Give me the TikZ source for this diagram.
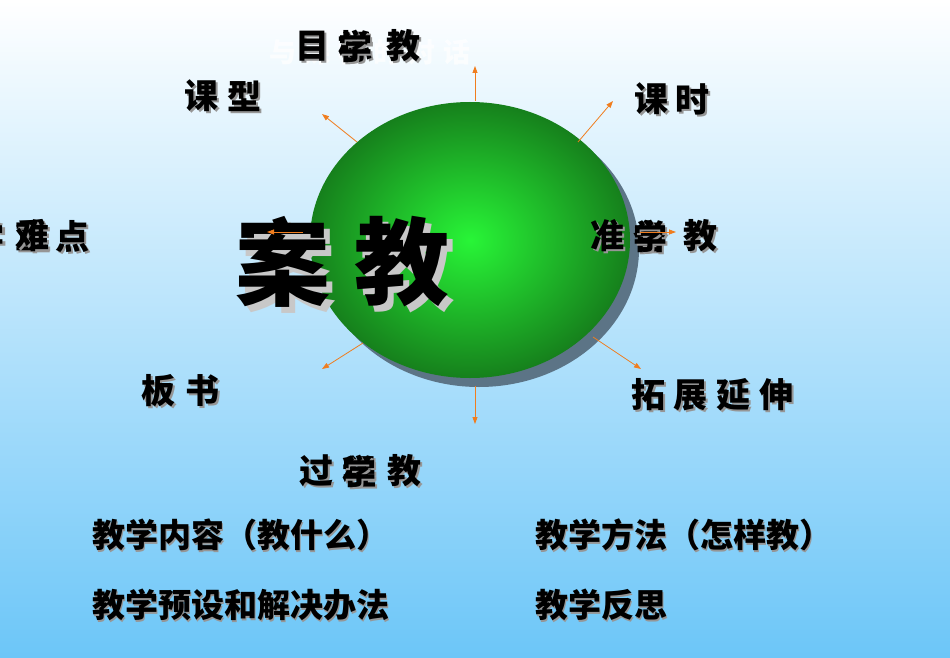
\documentclass[tikz,border=0pt]{standalone}
\usepackage{fontspec}
\usetikzlibrary{arrows.meta,shapes.geometric}
\newfontfamily\cjk{Noto Sans CJK SC}
\definecolor{arrc}{RGB}{240,125,30}
\definecolor{shc}{RGB}{150,150,150}
\definecolor{bigsh}{RGB}{200,200,200}
\definecolor{bgm}{RGB}{205,238,252}
\definecolor{bgb}{RGB}{108,198,248}
\definecolor{ballin}{RGB}{40,245,55}
\definecolor{ballout}{RGB}{22,128,28}
\definecolor{ballsh}{RGB}{92,116,134}
% glyph with drop shadow inside one box
\newcommand\shg[1]{\rlap{\hspace{2pt}\raisebox{-2pt}{\textcolor{shc}{#1}}}#1}
\newcommand\bigglyph[1]{\rlap{\hspace{6pt}\raisebox{-6pt}{\textcolor{bigsh}{#1}}}#1}
\newcommand\botline[1]{\rlap{\hspace{1.5pt}\raisebox{-1.5pt}{\textcolor{shc}{#1}}}#1}
\tikzset{
  lab/.style={font=\cjk\bfseries\fontsize{34}{34}\selectfont, inner sep=0pt, text=black},
  big/.style={font=\cjk\bfseries\fontsize{95}{95}\selectfont, inner sep=0pt},
  bot/.style={font=\cjk\bfseries\fontsize{33}{33}\selectfont, inner sep=0pt, anchor=west},
  arr/.style={draw=arrc, line width=0.8pt, -{Triangle[length=7pt,width=5pt]}},
}
\begin{document}
\begin{tikzpicture}[x=1pt,y=-1pt]
\useasboundingbox (0,0) rectangle (950,658);
\shade[top color=white, middle color=bgm, bottom color=bgb] (0,0) rectangle (950,658);

% faint white text
\node[font=\cjk\bfseries\fontsize{27}{27}\selectfont, text=white, opacity=0.75, inner sep=0pt] (faint) at (370,52) {与\hspace{8pt}课\hspace{8pt}标\hspace{8pt}的\hspace{8pt}对\hspace{8pt}话};

% ball
\node[ellipse, fill=ballsh, minimum width=320pt, minimum height=276pt, inner sep=0pt] (ballshadow) at (479,249) {};
\node[ellipse, shading=radial, inner color=ballin, outer color=ballout, minimum width=320pt, minimum height=276pt, inner sep=0pt] (ball) at (470,240) {};

% top label
\node[lab] (t1) at (312,47) {\shg{目}};
\node[lab] (t2) at (355,47) {\rlap{\shg{标}}\shg{学}};
\node[lab] (t3) at (403,47) {\shg{教}};
% 课型
\node[lab] (k1) at (201,97) {\shg{课}};
\node[lab] (k2) at (244,97) {\shg{型}};
% 课时
\node[lab] (s1) at (651,100) {\shg{课}};
\node[lab] (s2) at (692,100) {\shg{时}};
% left
\node[lab] (l0) at (-12,237) {\shg{学}};
\node[lab] (l1) at (32,237) {\rlap{\shg{重}}\shg{难}};
\node[lab] (l2) at (72,237) {\shg{点}};
% 准备教
\node[lab] (r1) at (607,237) {\shg{准}};
\node[lab] (r2) at (650,237) {\rlap{\shg{备}}\shg{学}};
\node[lab] (r3) at (700,237) {\shg{教}};
% 板书
\node[lab] (b1) at (158,392) {\shg{板}};
\node[lab] (b2) at (202,392) {\shg{书}};
% 拓展延伸
\node[lab] (e1) at (648,396) {\shg{拓}};
\node[lab] (e2) at (690,396) {\shg{展}};
\node[lab] (e3) at (733,396) {\shg{延}};
\node[lab] (e4) at (776,396) {\shg{伸}};
% 过程教
\node[lab] (g1) at (316,472) {\shg{过}};
\node[lab] (g2) at (359,472) {\rlap{\shg{程}}\shg{学}};
\node[lab] (g3) at (404,472) {\shg{教}};

% big title
\node[big] (an) at (283,265) {\bigglyph{案}};
\node[big] (jiao) at (402,265) {\bigglyph{教}};

% arrows
\coordinate (aTs) at (475,101);  \coordinate (aTe) at (475,66);
\coordinate (aTRs) at (578,142); \coordinate (aTRe) at (613,101);
\coordinate (aTLs) at (357,142); \coordinate (aTLe) at (322,114);
\coordinate (aLs) at (303,232);  \coordinate (aLe) at (267,232);
\coordinate (aRs) at (640,232);  \coordinate (aRe) at (676,232);
\coordinate (aBLs) at (363,343); \coordinate (aBLe) at (322,369);
\coordinate (aBRs) at (593,337); \coordinate (aBRe) at (641,369);
\coordinate (aBs) at (475,386);  \coordinate (aBe) at (475,424);
\foreach \a in {T,TR,TL,L,R,BL,BR,B} \draw[arr] (a\a s) -- (a\a e);

% bottom texts
\node[bot] (q1) at (92,536) {\botline{教学内容（教什么）}};
\node[bot] (q2) at (535,536) {\botline{教学方法（怎样教）}};
\node[bot] (q3) at (92,606) {\botline{教学预设和解决办法}};
\node[bot] (q4) at (535,606) {\botline{教学反思}};
\end{tikzpicture}
\end{document}
